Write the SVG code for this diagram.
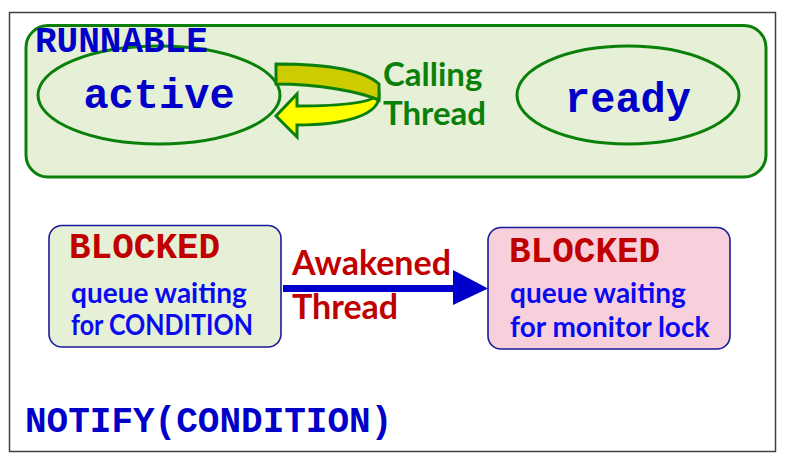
<svg xmlns="http://www.w3.org/2000/svg" width="787" height="466" viewBox="0 0 787 466">
<style>
.mono{font-family:"Liberation Mono","Courier New",monospace;font-weight:bold}
.sans{font-family:Lato,"Liberation Sans",sans-serif;font-weight:bold}
.blue{fill:#0000C8}
.red{fill:#C00000}
.lblue{fill:#0A0AF0}
.green{fill:#0A800A}
.state{fill:#E6F0D6;stroke:#0A800A;stroke-width:3}
.blk{stroke:#1A1A9A;stroke-width:1.6}
</style>
<rect x="9.5" y="12.5" width="766" height="439" fill="#FFFFFF" stroke="#404040" stroke-width="1.5"/>
<g id="runnable">
<rect x="26" y="25.5" width="740" height="151.5" rx="22" class="state"/>
</g>
<g id="active">
<ellipse cx="159" cy="95" rx="121" ry="49" class="state"/>
<text x="159" y="108" class="mono blue" font-size="42" text-anchor="middle">active</text>
</g>
<g id="ready">
<ellipse cx="628" cy="95" rx="111" ry="49" class="state"/>
<text x="628" y="112" class="mono blue" font-size="42" text-anchor="middle">ready</text>
</g>
<text x="35" y="52" class="mono blue" font-size="36">RUNNABLE</text>
<g id="calling-thread">
<path d="M379,94 C372,104 330,106 297,106 L297,94 L276,116 L297,137 L297,125 C345,125 381,115 379,94 Z" fill="#FFFF00" stroke="#0A800A" stroke-width="3" stroke-linejoin="miter"/>
<path d="M276,64 C320,64 362,68 379,84 L379,100 C360,92 320,84 276,84 Z" fill="#CCCC00" stroke="#0A800A" stroke-width="3"/>
<text x="383" y="86" class="sans green" font-size="33">Calling</text>
<text x="383" y="125" class="sans green" font-size="33">Thread</text>
</g>
<g id="blocked-condition">
<rect x="49" y="225.5" width="232" height="121.5" rx="13" fill="#E6F0D6" class="blk"/>
<text x="69" y="258" class="mono red" font-size="36">BLOCKED</text>
<text x="71" y="303" class="sans lblue" font-size="28">queue waiting</text>
<text x="71" y="335" class="sans lblue" font-size="28" textLength="182" lengthAdjust="spacingAndGlyphs">for CONDITION</text>
</g>
<g id="blocked-monitor">
<rect x="488" y="227.5" width="242" height="121.5" rx="13" fill="#F8D0DC" class="blk"/>
<text x="509" y="262" class="mono red" font-size="36">BLOCKED</text>
<text x="510" y="303" class="sans lblue" font-size="28">queue waiting</text>
<text x="510" y="337" class="sans lblue" font-size="28">for monitor lock</text>
</g>
<g id="connectors">
<path d="M283,285 L453,285 L453,270 L488,288.5 L453,305 L453,292 L283,292 Z" fill="#0000CC"/>
<text x="292" y="275" class="sans red" font-size="34">Awakened</text>
<text x="292" y="319" class="sans red" font-size="34">Thread</text>
</g>
<text x="25" y="432" class="mono blue" font-size="36">NOTIFY(CONDITION)</text>
</svg>
